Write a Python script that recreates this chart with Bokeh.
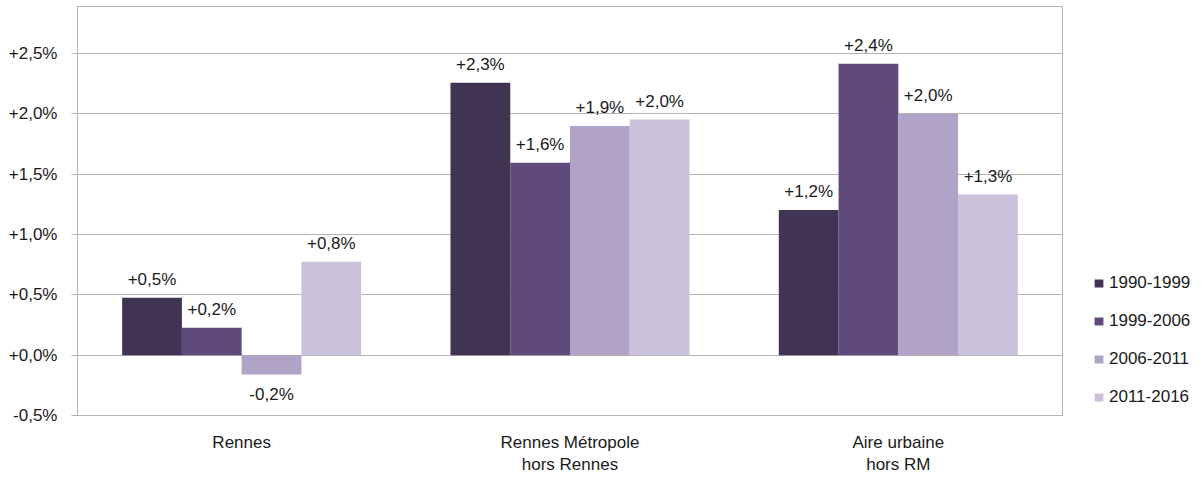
from bokeh.plotting import figure
from bokeh.models import ColumnDataSource, FactorRange, Range1d, FixedTicker, Legend, LegendItem
from bokeh.transform import dodge
from bokeh.core.properties import value
from bokeh.embed import file_html
from bokeh.resources import INLINE

categories = ["Rennes", "Rennes Métropole\nhors Rennes", "Aire urbaine\nhors RM"]
series_names = ["1990-1999", "1999-2006", "2006-2011", "2011-2016"]
s1990_1999 = [0.477, 2.257, 1.204]
s1999_2006 = [0.228, 1.594, 2.415]
s2006_2011 = [-0.16, 1.90, 2.00]
s2011_2016 = [0.775, 1.953, 1.331]
colors = ["#413352", "#604A7B", "#B1A2C7", "#CCC1DA"]
y_ticks = [-0.5, 0.0, 0.5, 1.0, 1.5, 2.0, 2.5]

FONT = "Liberation Sans"
FS = "17px"
TXT = "#1a1a1a"
GRID = "#b3b3b3"

def fmt(v):
    return ("%+.1f%%" % v).replace(".", ",")

p = figure(x_range=FactorRange(factors=categories, range_padding=0),
           y_range=Range1d(-0.5, 2.89),
           frame_width=985, frame_height=409,
           min_border_left=77, min_border_right=128, min_border_top=6, min_border_bottom=50,
           output_backend="svg", toolbar_location=None, tools="")
p.x_range.range_padding = 0
p.x_range.factor_padding = 0
p.x_range.group_padding = 0

series = [s1990_1999, s1999_2006, s2006_2011, s2011_2016]
bw = 0.182
offsets = [-1.5 * bw, -0.5 * bw, 0.5 * bw, 1.5 * bw]
items = []
for name, vals, col, off in zip(series_names, series, colors, offsets):
    src = ColumnDataSource(dict(cat=categories, val=vals))
    r = p.vbar(x=dodge("cat", off, range=p.x_range), top="val", bottom=0, width=bw,
               source=src, fill_color=col, line_color=None)
    items.append(LegendItem(label=name, renderers=[r]))
    pos = [(c, v, fmt(v)) for c, v in zip(categories, vals) if v >= 0]
    neg = [(c, v, fmt(v)) for c, v in zip(categories, vals) if v < 0]
    if pos:
        ps = ColumnDataSource(dict(cat=[a[0] for a in pos], val=[a[1] for a in pos], lab=[a[2] for a in pos]))
        p.text(x=dodge("cat", off, range=p.x_range), y="val", text="lab", source=ps,
               text_align="center", text_baseline="alphabetic", y_offset=-18,
               text_font=value(FONT), text_font_size=FS, text_color=TXT)
    if neg:
        ns = ColumnDataSource(dict(cat=[a[0] for a in neg], val=[a[1] for a in neg], lab=[a[2] for a in neg]))
        p.text(x=dodge("cat", off, range=p.x_range), y="val", text="lab", source=ns,
               text_align="center", text_baseline="alphabetic", y_offset=20,
               text_font=value(FONT), text_font_size=FS, text_color=TXT)

legend = Legend(items=items, location=(31, 8), orientation="vertical",
                padding=0, margin=0, spacing=18, glyph_width=11, glyph_height=10,
                label_height=20, label_standoff=5, label_text_font=FONT, label_text_font_size=FS,
                label_text_color=TXT, border_line_color=None, background_fill_alpha=0)
p.add_layout(legend, "right")

p.outline_line_color = GRID
p.xgrid.grid_line_color = None
p.ygrid.grid_line_color = GRID
p.ygrid.ticker = FixedTicker(ticks=y_ticks)

ya = p.yaxis[0]
ya.ticker = FixedTicker(ticks=y_ticks)
ya.major_label_overrides = {t: fmt(t) for t in y_ticks}
ya.axis_line_color = GRID
ya.major_tick_line_color = GRID
ya.major_tick_out = 6
ya.major_tick_in = 0
ya.minor_tick_line_color = None
ya.major_label_standoff = 14
ya.major_label_text_font = FONT
ya.major_label_text_font_size = FS
ya.major_label_text_color = TXT

xa = p.xaxis[0]
xa.axis_line_color = GRID
xa.major_tick_line_color = None
xa.minor_tick_line_color = None
xa.major_label_standoff = 11
xa.major_label_text_font = FONT
xa.major_label_text_font_size = FS
xa.major_label_text_color = TXT

p.background_fill_color = "white"
p.border_fill_color = "white"

open("out.html", "w").write(file_html(p, INLINE))
